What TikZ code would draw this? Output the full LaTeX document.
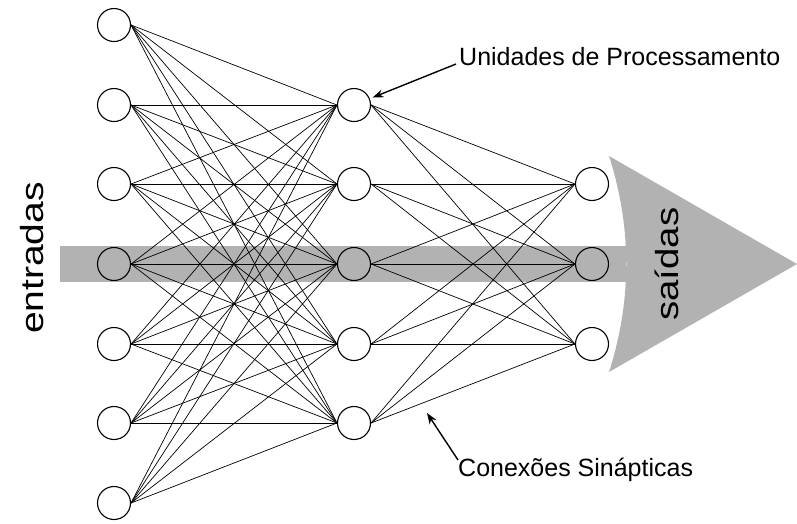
\documentclass[tikz,border=0pt]{standalone}
\usepackage{fontspec}
\setmainfont{Liberation Sans}
\usetikzlibrary{arrows.meta}
\definecolor{flowgray}{gray}{0.70}
\begin{document}
\begin{tikzpicture}[x=1pt,y=-1pt,
  neuron/.style={circle,draw,line width=1.1pt,minimum size=33pt,inner sep=0pt},
  synapse/.style={line width=0.7pt},
  pointer/.style={line width=1.4pt,-{Stealth[length=11pt,width=8pt]}},
  caption/.style={font=\fontsize{25}{30}\selectfont,inner sep=0pt},
  flowlabel/.style={font=\fontsize{32}{38}\selectfont,rotate=90,inner sep=0pt}]
\useasboundingbox (0,0) rectangle (797,523);

% broad grey arrow showing the flow from inputs to outputs
\fill[flowgray] (60,246) rectangle (626,282);
\fill[flowgray] (609,156) -- (797,264) -- (609,372)
  .. controls (632,300) and (632,228) .. (609,156);

% layers of processing units
\foreach \y [count=\k] in {25,105,184,264,344,423,503}
  \node[neuron] (i\k) at (114,\y) {};
\foreach \y [count=\k] in {105,184,264,344,423}
  \node[neuron] (h\k) at (354,\y) {};
\foreach \y [count=\k] in {184,264,344}
  \node[neuron] (o\k) at (592,\y) {};

% synaptic connections, fully connected between layers
\foreach \a in {1,...,7}
  \foreach \b in {1,...,5}
    \draw[synapse] (i\a.east) -- (h\b.west);
\foreach \a in {1,...,5}
  \foreach \b in {1,...,3}
    \draw[synapse] (h\a.east) -- (o\b.west);

% flow labels
\node[flowlabel,anchor=base] (inlab) at (43,258) {\scalebox{1.22}[1]{entradas}};
\node[flowlabel,anchor=base] (outlab) at (678,264) {\scalebox{1.2}[1]{saídas}};

% annotations
\node[caption,anchor=base west] (ulab) at (459,65) {Unidades de Processamento};
\coordinate (ustart) at (456,64);
\draw[pointer,shorten >=3pt] (ustart) -- (h1);

\node[caption,anchor=base west] (clab) at (458,476) {Conexões Sinápticas};
\coordinate (cstart) at (458,460);
\coordinate (ctip) at (427,413);
\draw[pointer] (cstart) -- (ctip);
\end{tikzpicture}
\end{document}
